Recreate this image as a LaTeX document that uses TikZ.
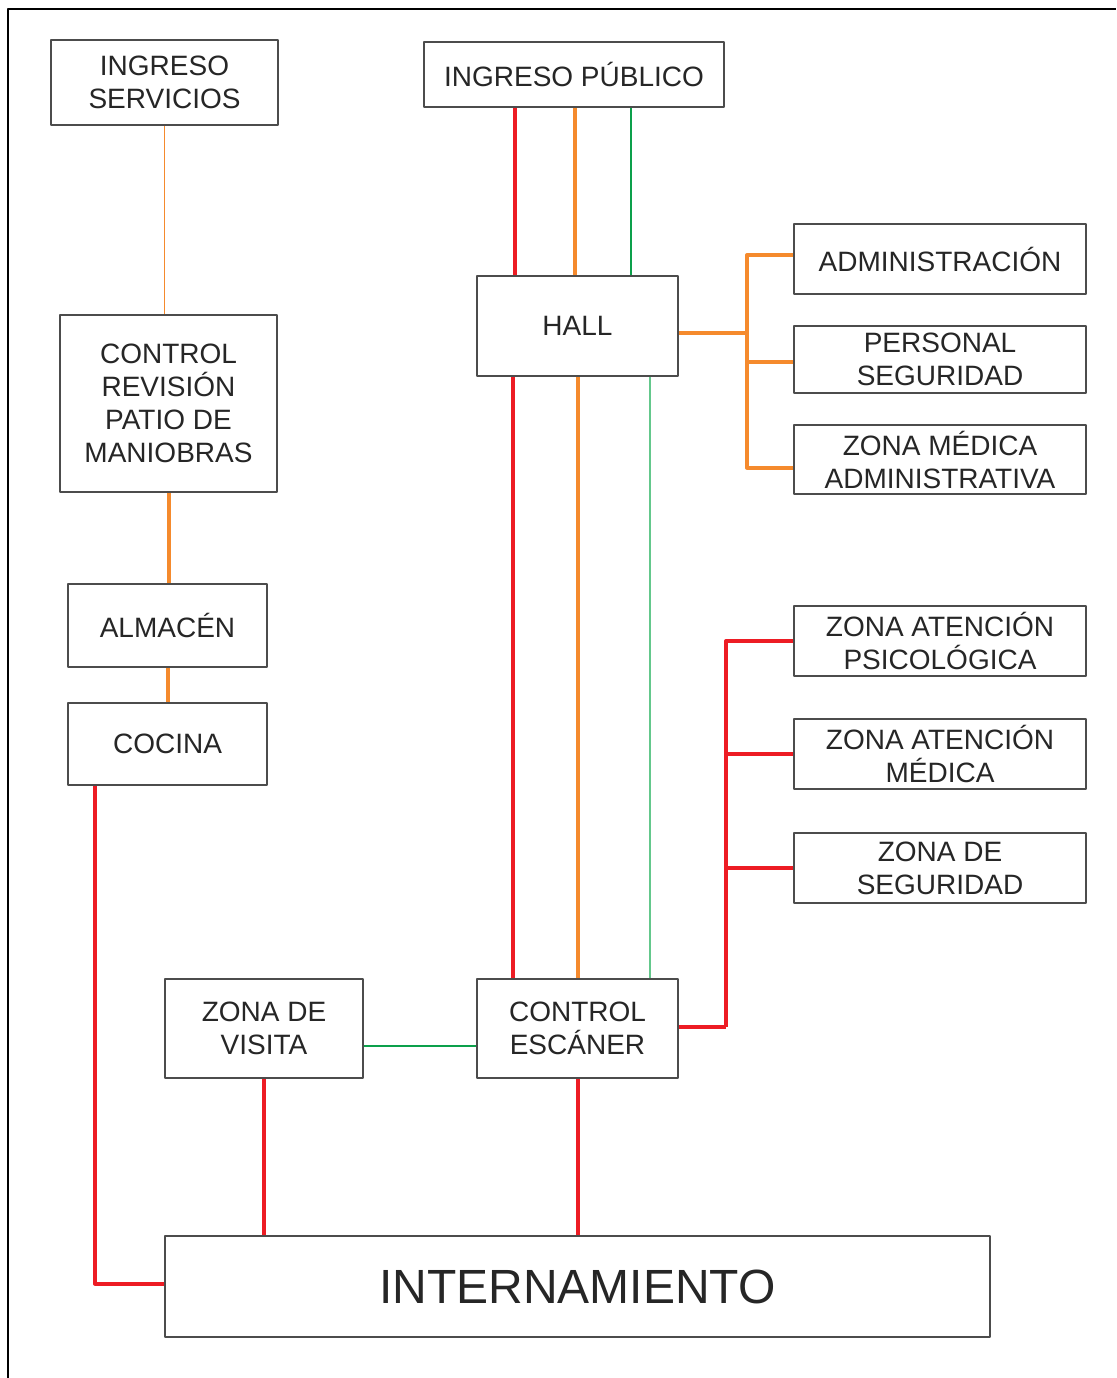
\documentclass[tikz,border=0pt]{standalone}
\usepackage{fontspec}
\setmainfont{Liberation Sans}
\usetikzlibrary{calc}
\definecolor{rojoL}{RGB}{237,28,36}
\definecolor{naranjaL}{RGB}{245,138,45}
\definecolor{verdeL}{RGB}{12,160,75}
\definecolor{verdeclaroL}{RGB}{100,200,140}
\begin{document}
\begin{tikzpicture}[x=0.5pt,y=-0.5pt,font=\fontsize{14}{16.5}\selectfont, line join=round,
	caja/.style 2 args={draw=black!70,line width=1.2pt,fill=white,text=black!85,align=center,inner sep=0pt,minimum width=#1*0.5pt,minimum height=#2*0.5pt},
	rojo/.style={draw=rojoL,line width=2pt},
	naranja/.style={draw=naranjaL,line width=2pt},
	naranjafino/.style={draw=naranjaL,line width=0.8pt},
	verde/.style={draw=verdeL,line width=1.2pt},
	verdeclaro/.style={draw=verdeclaroL,line width=1.4pt}]
	\useasboundingbox (0,0) rectangle (1116,1378);
	\draw[line width=1pt] (8,1378)--(8,9)--(1116,9);
	% bloque servicios
	\node[caja={227}{85}] (isv) at (164.5,82.5) {INGRESO\\SERVICIOS};
	\node[caja={217}{177}] (crp) at (168.5,403.5) {CONTROL\\REVISIÓN\\PATIO DE\\MANIOBRAS};
	\node[caja={199}{83}] (alm) at (167.5,625.5) {ALMACÉN};
	\node[caja={199}{82}] (coc) at (167.5,744) {COCINA};
	% bloque publico
	\node[caja={300}{65}] (ipu) at (574,74.5) {INGRESO PÚBLICO};
	\node[caja={201}{100}] (hall) at (577.5,326) {HALL};
	\node[caja={201}{99}] (ce) at (577.5,1028.5) {CONTROL\\ESCÁNER};
	\node[caja={198}{99}] (zv) at (264,1028.5) {ZONA DE\\VISITA};
	\node[caja={825}{101},font=\fontsize{24}{28}\selectfont] (int) at (577.5,1286.5) {INTERNAMIENTO};
	% columna derecha
	\node[caja={292}{70}] (adm) at (940,259) {ADMINISTRACIÓN};
	\node[caja={292}{67}] (per) at (940,359.5) {PERSONAL\\SEGURIDAD};
	\node[caja={292}{69}] (zma) at (940,459.5) {ZONA MÉDICA\\ADMINISTRATIVA};
	\node[caja={292}{70}] (zap) at (940,641) {ZONA ATENCIÓN\\PSICOLÓGICA};
	\node[caja={292}{70}] (zam) at (940,754) {ZONA ATENCIÓN\\MÉDICA};
	\node[caja={292}{70}] (zse) at (940,868) {ZONA DE\\SEGURIDAD};
	% conexiones servicios
	\draw[naranjafino] (isv.south) -- (isv.south |- crp.north);
	\draw[naranja] (crp.south) -- (crp.south |- alm.north);
	\draw[naranja] (alm.south) -- (coc.north);
	\draw[rojo] ($(coc.south west)+(28,0)$) |- ($(int.west)+(0,-3)$);
	% ingreso publico - hall
	\draw[rojo] ($(hall.north)+(-62.5,0)$) coordinate (a) -- (a |- ipu.south);
	\draw[naranja] ($(hall.north)+(-2.5,0)$) coordinate (a) -- (a |- ipu.south);
	\draw[verde] ($(hall.north)+(53.5,0)$) coordinate (a) -- (a |- ipu.south);
	% hall - control escaner
	\draw[rojo] ($(hall.south)+(-64.5,0)$) coordinate (a) -- (a |- ce.north);
	\draw[naranja] (hall.south) -- (ce.north);
	\draw[verdeclaro] ($(hall.south)+(72.5,0)$) coordinate (a) -- (a |- ce.north);
	% ramas
	\coordinate (ramaH) at (747,333);
	\draw[naranja] (hall.east |- ramaH) -- (ramaH);
	\foreach \n/\d in {adm/-4,per/2,zma/8}
		\draw[naranja] ($(\n.west)+(0,\d)$) -| (ramaH);
	\coordinate (ramaE) at (726,1027);
	\draw[rojo] (ce.east |- ramaE) -- (ramaE);
	\foreach \n in {zap,zam,zse}
		\draw[rojo] (\n.west) -| (ramaE);
	% visita e internamiento
	\draw[verde] ($(zv.east)+(0,17.5)$) coordinate (a) -- (a -| ce.west);
	\draw[rojo] (zv.south) -- (zv.south |- int.north);
	\draw[rojo] (ce.south) -- (ce.south |- int.north);
\end{tikzpicture}
\end{document}
